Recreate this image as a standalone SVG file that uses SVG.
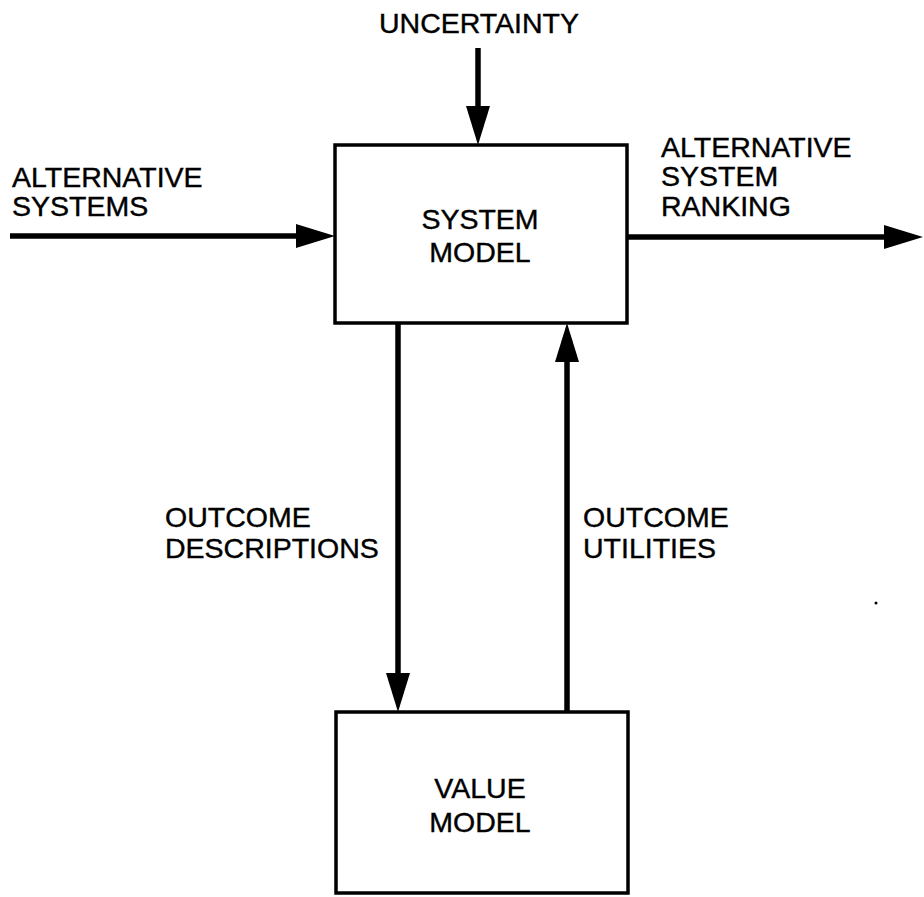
<svg xmlns="http://www.w3.org/2000/svg" width="924" height="897" viewBox="0 0 924 897">
  <style>
    .box { fill: #ffffff; stroke: #000000; stroke-width: 3.5; }
    .flow { stroke: #000000; stroke-width: 5.5; fill: none; marker-end: url(#head); }
    text { font-family: "Liberation Sans", Arial, sans-serif; font-size: 28.5px; fill: #000000; stroke: #000000; stroke-width: 0.4; }
    .mid { text-anchor: middle; }
  </style>
  <defs>
    <marker id="head" markerUnits="userSpaceOnUse" markerWidth="42" markerHeight="26" refX="18" refY="12" orient="auto">
      <path d="M0,0 L39,12 L0,24 Z" fill="#000000"/>
    </marker>
  </defs>
  <rect width="924" height="897" fill="#ffffff"/>

  <g id="connectors">
    <line class="flow" x1="478" y1="48" x2="478" y2="124"/>
    <line class="flow" x1="10" y1="236" x2="314" y2="236"/>
    <line class="flow" x1="627" y1="237" x2="902" y2="237"/>
    <line class="flow" x1="398" y1="323" x2="398" y2="691"/>
    <line class="flow" x1="567" y1="712" x2="567" y2="344"/>
  </g>

  <g id="system-model">
    <rect class="box" x="335" y="145" width="292" height="178"/>
    <text class="mid" x="480" y="229">SYSTEM</text>
    <text class="mid" x="480" y="262">MODEL</text>
  </g>

  <g id="value-model">
    <rect class="box" x="336" y="712" width="292" height="181"/>
    <text class="mid" x="480" y="798">VALUE</text>
    <text class="mid" x="480" y="832">MODEL</text>
  </g>

  <g id="label-uncertainty">
    <text class="mid" x="479" y="33">UNCERTAINTY</text>
  </g>

  <g id="label-alternative-systems">
    <text x="12" y="187">ALTERNATIVE</text>
    <text x="12" y="216">SYSTEMS</text>
  </g>

  <g id="label-ranking">
    <text x="661" y="157">ALTERNATIVE</text>
    <text x="661" y="186">SYSTEM</text>
    <text x="661" y="216">RANKING</text>
  </g>

  <g id="label-descriptions">
    <text x="165" y="527">OUTCOME</text>
    <text x="165" y="558">DESCRIPTIONS</text>
  </g>

  <g id="label-utilities">
    <text x="583" y="527">OUTCOME</text>
    <text x="583" y="558">UTILITIES</text>
  </g>

  <circle cx="876" cy="603" r="1.5" fill="#000000"/>
</svg>
